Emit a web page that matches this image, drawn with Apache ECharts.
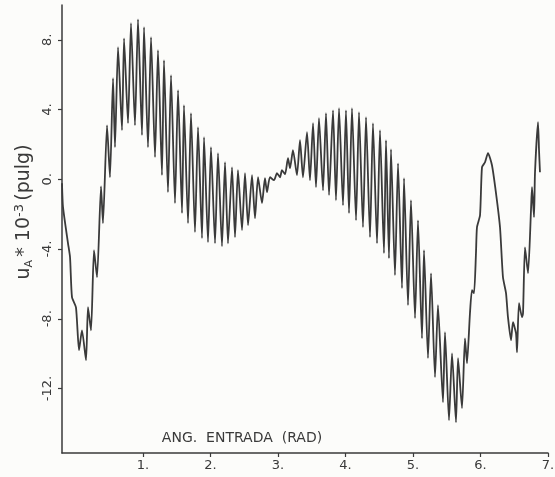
<!DOCTYPE html>
<html>
<head>
<meta charset="utf-8">
<script src="https://cdn.jsdelivr.net/npm/echarts@6/dist/echarts.min.js"></script>
<style>
  html, body { margin: 0; padding: 0; background: #fcfcfa; }
  #chart { width: 555px; height: 477px; }
</style>
</head>
<body>
<div id="chart"></div>
<script>
// ANG. ENTRADA (rad)
const angle = [
  -0.2, -0.185, -0.111, -0.081, -0.052, 0.007, 0.052, 0.096, 0.156, 0.185,
  0.23, 0.274, 0.319, 0.378, 0.407, 0.467, 0.511, 0.556, 0.585, 0.63,
  0.689, 0.719, 0.778, 0.822, 0.881, 0.926, 0.985, 1.015, 1.074, 1.119,
  1.178, 1.222, 1.281, 1.311, 1.37, 1.415, 1.474, 1.519, 1.578, 1.607,
  1.667, 1.711, 1.77, 1.815, 1.874, 1.904, 1.963, 2.007, 2.067, 2.111,
  2.17, 2.215, 2.259, 2.319, 2.363, 2.407, 2.467, 2.511, 2.556, 2.615,
  2.659, 2.704, 2.763, 2.807, 2.837, 2.881, 2.941, 2.985, 3.03, 3.059,
  3.104, 3.148, 3.178, 3.222, 3.281, 3.326, 3.37, 3.43, 3.474, 3.519,
  3.563, 3.607, 3.667, 3.711, 3.756, 3.815, 3.859, 3.904, 3.963, 4.007,
  4.052, 4.096, 4.156, 4.2, 4.259, 4.304, 4.363, 4.407, 4.467, 4.511,
  4.57, 4.6, 4.644, 4.674, 4.733, 4.778, 4.837, 4.867, 4.926, 4.97,
  5.03, 5.074, 5.133, 5.163, 5.222, 5.267, 5.326, 5.37, 5.444, 5.474,
  5.533, 5.578, 5.637, 5.667, 5.726, 5.77, 5.8, 5.844, 5.874, 5.904,
  5.933, 5.948, 5.993, 6.022, 6.067, 6.111, 6.17, 6.23, 6.289, 6.333,
  6.378, 6.407, 6.452, 6.481, 6.526, 6.541, 6.57, 6.615, 6.63, 6.659,
  6.704, 6.748, 6.763, 6.793, 6.807, 6.852, 6.867, 6.881
];
// uA * 10^-3 (pulg)
const uA = [
  -0.22, -1.6, -3.67, -4.47, -6.76, -7.34, -9.8, -8.66, -10.38, -7.34,
  -8.66, -4.07, -5.62, -0.4, -2.52, 3.1, 0.12, 5.8, 1.84, 7.58,
  2.82, 8.09, 3.22, 8.96, 3.1, 9.18, 2.53, 8.73, 1.84, 8.15,
  1.27, 7.41, 0.24, 6.83, -0.74, 5.97, -1.37, 5.11, -1.94, 4.25,
  -2.52, 3.79, -3.03, 2.99, -3.38, 2.42, -3.61, 1.84, -3.67, 1.5,
  -3.84, 0.98, -3.67, 0.69, -3.32, 0.52, -2.92, 0.35, -2.63, 0.24,
  -2.23, 0.12, -1.37, 0.06, -0.74, 0.12, -0.05, 0.35, 0.12, 0.52,
  0.29, 1.21, 0.64, 1.67, 0.24, 2.24, 0.12, 2.7, -0.05, 3.22,
  -0.45, 3.51, -0.63, 3.79, -0.91, 3.96, -1.2, 4.08, -1.49, 3.96,
  -1.94, 4.08, -2.35, 3.85, -2.75, 3.56, -3.32, 3.22, -3.67, 2.82,
  -4.24, 2.24, -4.53, 1.73, -5.5, 0.92, -6.25, 0.06, -7.22, -1.2,
  -7.97, -2.35, -9.12, -4.07, -10.26, -5.39, -11.35, -7.22, -12.79, -8.77,
  -13.82, -9.98, -13.94, -10.26, -13.13, -9.12, -10.55, -7.68, -6.36, -6.53,
  -4.24, -2.75, -2.06, 0.69, 0.98, 1.5, 0.81, -0.8, -2.75, -5.62,
  -6.53, -7.91, -9.23, -8.2, -8.83, -9.92, -7.11, -7.91, -7.68, -3.9,
  -5.39, -1.77, -0.45, -2.17, 0.35, 3.28, 1.67, 0.41
];
const xTicks = [1, 2, 3, 4, 5, 6, 7];
const yTicks = [-12, -8, -4, 0, 4, 8];

const ink = '#3a3a3a';
const hand = 'DejaVu Sans';

let myChart = echarts.init(document.getElementById('chart'));

let points = angle.map((a, i) => [a, uA[i]]);

let option = {
    backgroundColor: '#fcfcfa',
    animation: false,
    grid: { left: 62, right: 7, top: 5, bottom: 24, containLabel: false, outerBoundsMode: 'none' },
    xAxis: {
        type: 'value',
        min: -0.2,
        max: 7,
        splitLine: { show: false },
        axisLine: { onZero: false, lineStyle: { color: ink, width: 1.5 } },
        axisTick: { customValues: xTicks, length: 4, lineStyle: { color: ink, width: 1.2 } },
        axisLabel: {
            customValues: xTicks,
            formatter: v => v + '.',
            color: ink, fontFamily: hand, fontSize: 13, margin: 6
        }
    },
    yAxis: {
        type: 'value',
        min: -15.7,
        max: 10,
        splitLine: { show: false },
        axisLine: { onZero: false, lineStyle: { color: ink, width: 1.5 } },
        axisTick: { customValues: yTicks, length: 4, lineStyle: { color: ink, width: 1.2 } },
        axisLabel: {
            customValues: yTicks,
            formatter: v => v + '.',
            rotate: 90,
            color: ink, fontFamily: hand, fontSize: 13, margin: 8
        }
    },
    graphic: [
        {
            type: 'text', x: 242, y: 438,
            style: {
                text: 'ANG.  ENTRADA  (RAD)',
                fill: ink, font: '14px "DejaVu Sans"',
                align: 'center', verticalAlign: 'middle'
            }
        },
        {
            type: 'text', x: 24, y: 212, rotation: Math.PI / 2,
            style: {
                text: '{n|u}{sub|A} {n|* 10}{sup|-3} {n|(pulg)}',
                fill: ink, align: 'center', verticalAlign: 'middle',
                rich: {
                    n: { fontSize: 19, fontFamily: hand, fill: ink },
                    sub: { fontSize: 11, fontFamily: hand, fill: ink, verticalAlign: 'bottom', padding: [8, 0, 0, 0] },
                    sup: { fontSize: 13, fontFamily: hand, fill: ink, verticalAlign: 'top', padding: [0, 0, 8, 0] }
                }
            }
        }
    ],
    series: [
        {
            type: 'line',
            data: points,
            showSymbol: false,
            smooth: 0.2,
            lineStyle: { color: ink, width: 1.8 }
        }
    ]
};

option && myChart.setOption(option);
</script>
</body>
</html>
